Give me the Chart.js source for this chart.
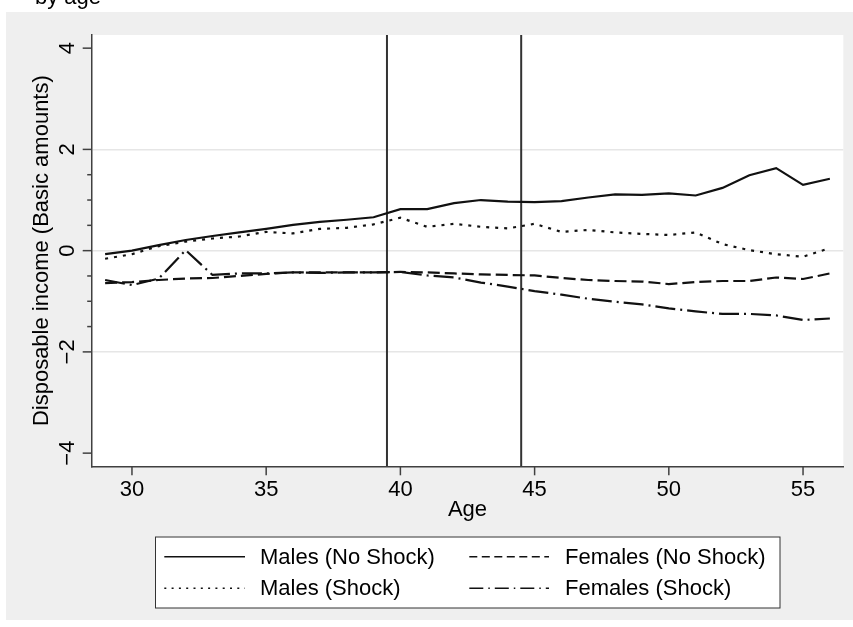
<!DOCTYPE html>
<html>
<head>
<meta charset="utf-8">
<script src="https://cdn.jsdelivr.net/npm/chart.js@4/dist/chart.umd.min.js"></script>
<style>
body{margin:0;background:#fff}
canvas{display:block}
</style>
</head>
<body>
<canvas id="incomeChart" width="853" height="627"></canvas>
<script>

let ages=[29,30,31,32,33,34,35,36,37,38,39,40,41,42,43,44,45,46,47,48,49,50,51,52,53,54,55,56]

let malesNoShock=[-0.07,0.00,0.11,0.21,0.29,0.36,0.43,0.51,0.57,0.61,0.66,0.82,0.82,0.94,1.00,0.97,0.96,0.98,1.05,1.11,1.10,1.13,1.09,1.24,1.49,1.63,1.30,1.42]
let malesShock=[-0.16,-0.07,0.09,0.18,0.24,0.28,0.37,0.34,0.43,0.45,0.52,0.65,0.47,0.53,0.47,0.44,0.53,0.37,0.41,0.36,0.33,0.31,0.36,0.13,0.01,-0.07,-0.12,0.05]
let femalesNoShock=[-0.64,-0.62,-0.58,-0.55,-0.54,-0.50,-0.46,-0.43,-0.43,-0.43,-0.43,-0.42,-0.43,-0.45,-0.47,-0.48,-0.49,-0.54,-0.58,-0.60,-0.61,-0.66,-0.62,-0.60,-0.60,-0.53,-0.56,-0.45]
let femalesShock=[-0.58,-0.68,-0.55,0.01,-0.48,-0.45,-0.45,-0.43,-0.44,-0.43,-0.43,-0.42,-0.49,-0.53,-0.63,-0.71,-0.80,-0.87,-0.95,-1.01,-1.06,-1.14,-1.20,-1.25,-1.25,-1.28,-1.37,-1.34]

let refLines=[39.5,44.5]

let xTicks=[30,35,40,45,50,55]
let yTickMarks=[-4,-2,-1.5,-1,-0.5,0,0.5,1,1.5,2,4]
let yLabels=[-4,-2,0,2,4]
let yGrid=[-2,0,2]

let xMin=28.5, xMax=56.5, yMin=-4.26, yMax=4.26

let fontFamily="'Liberation Sans', Arial, sans-serif"
let font={family:fontFamily,size:22}

function pts(vals){
return ages.map((a,i)=>({x:a,y:vals[i]}))
}

function fmt(v){
return v<0 ? "\u2212"+Math.abs(v) : String(v)
}

let series=[
{label:"Males (No Shock)",data:pts(malesNoShock),dash:[],legendDash:[]},
{label:"Males (Shock)",data:pts(malesShock),dash:[3,6],legendDash:[2,5.3]},
{label:"Females (No Shock)",data:pts(femalesNoShock),dash:[12,5],legendDash:[8,4.5]},
{label:"Females (Shock)",data:pts(femalesShock),dash:[20,5,2,5],legendDash:[14,5,1.5,5]}
]

let datasets=series.map(s=>({
label:s.label,
data:s.data,
borderColor:"#111",
borderWidth:2.2,
borderDash:s.dash,
pointRadius:0,
tension:0
}))

refLines.forEach(v=>{
datasets.push({
label:"ref",
data:[{x:v,y:yMin},{x:v,y:yMax}],
borderColor:"#333",
borderWidth:2,
pointRadius:0
})
})

let frame={
id:"frame",
beforeDraw(chart){
let c=chart.ctx, a=chart.chartArea
c.save()
c.fillStyle="#efefef"
c.fillRect(6,12,853-6,620-12)
c.fillStyle="#fff"
c.fillRect(a.left,a.top,a.right-a.left,a.bottom-a.top)
c.fillStyle="#000"
c.font="22px "+fontFamily
c.textBaseline="alphabetic"
c.fillText("by age",35,3.5)
c.restore()
},
afterDraw(chart){
let c=chart.ctx, a=chart.chartArea
let xs=chart.scales.x, ys=chart.scales.y
c.save()
c.strokeStyle="#404040"
c.lineWidth=1.5
xTicks.forEach(v=>{
let px=xs.getPixelForValue(v)
c.beginPath()
c.moveTo(px,a.bottom)
c.lineTo(px,a.bottom+9)
c.stroke()
})
yTickMarks.forEach(v=>{
let py=ys.getPixelForValue(v)
let len=yLabels.includes(v)?9:4.5
c.beginPath()
c.moveTo(a.left-len,py)
c.lineTo(a.left,py)
c.stroke()
})
c.fillStyle="#000"
c.font="22px "+fontFamily
c.textAlign="center"
c.textBaseline="middle"
yLabels.forEach(v=>{
let py=ys.getPixelForValue(v)
c.save()
c.translate(67,py)
c.rotate(-Math.PI/2)
c.fillText(fmt(v),0,1)
c.restore()
})

// legend
c.fillStyle="#fff"
c.fillRect(155,536.7,780-155,608-536.7)
c.strokeStyle="#333"
c.lineWidth=1
c.strokeRect(155.5,537,780-155.5,608-537)
let cols=[{x0:164.3,x1:245,tx:260},{x0:469.3,x1:549,tx:565}]
let rows=[556.7,588.3]
let order=[[0,0,0],[2,1,0],[1,0,1],[3,1,1]]
c.textAlign="left"
order.forEach(o=>{
let s=series[o[0]], col=cols[o[1]], y=rows[o[2]]
c.strokeStyle="#111"
c.lineWidth=1.5
c.setLineDash(s.legendDash)
c.beginPath()
c.moveTo(col.x0,y)
c.lineTo(col.x1,y)
c.stroke()
c.setLineDash([])
c.fillStyle="#000"
c.fillText(s.label,col.tx,y+1)
})
c.restore()
}
}

new Chart(document.getElementById("incomeChart"),{

type:"line",

data:{datasets:datasets},

options:{
responsive:false,
animation:false,
layout:{padding:{top:35,right:9.7,bottom:103.7,left:0}},
plugins:{legend:{display:false},tooltip:{enabled:false}},
scales:{
x:{
type:"linear",
min:xMin,
max:xMax,
afterBuildTicks:s=>{s.ticks=xTicks.map(v=>({value:v}))},
afterFit:s=>{s.height=57},
grid:{display:false,drawTicks:false},
border:{color:"#404040",width:1.5},
ticks:{font:font,color:"#000",padding:10,maxRotation:0,autoSkip:false},
title:{display:true,text:"Age",font:font,color:"#000",padding:{top:0,bottom:0}}
},
y:{
type:"linear",
min:yMin,
max:yMax,
afterBuildTicks:s=>{s.ticks=yTickMarks.map(v=>({value:v}))},
afterFit:s=>{s.width=91.7},
grid:{color:c=>yGrid.includes(c.tick.value)?"#e6e6e6":"rgba(0,0,0,0)",lineWidth:1.5,drawTicks:false},
border:{color:"#404040",width:1.5},
ticks:{display:false},
title:{display:true,text:"Disposable income (Basic amounts)",font:font,color:"#000",padding:{top:28.5,bottom:0}}
}
}
},

plugins:[frame]

})

</script>
</body>
</html>
